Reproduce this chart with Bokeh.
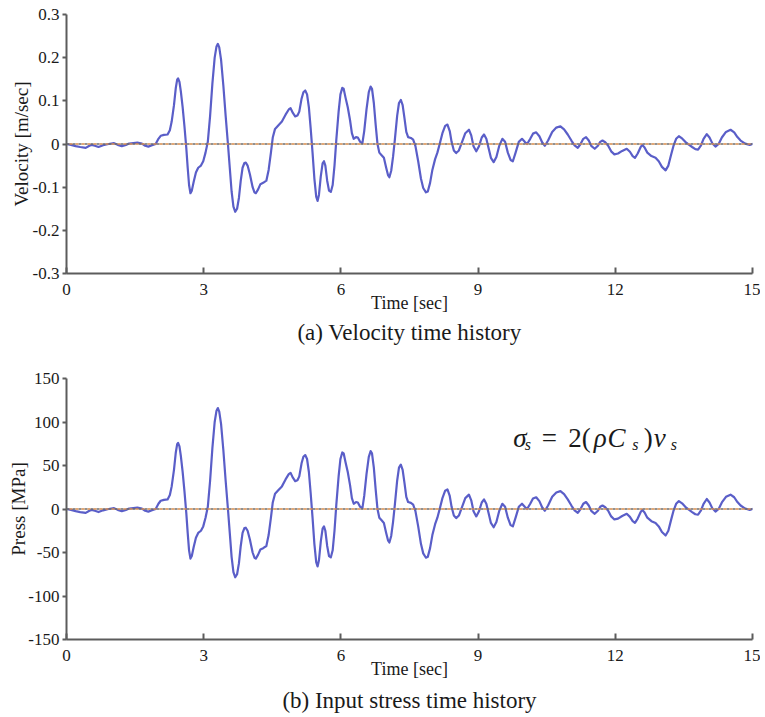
from bokeh.plotting import figure
from bokeh.layouts import column
from bokeh.models import FixedTicker, Span, Title, Label, Range1d
from bokeh.embed import file_html
from bokeh.resources import INLINE

# ---------------- data ----------------
time_s = [
    0.00, 0.10, 0.20, 0.30, 0.42, 0.50, 0.55, 0.62, 0.70, 0.80,
    0.92, 1.04, 1.12, 1.21, 1.30, 1.37, 1.46, 1.55, 1.65, 1.72,
    1.79, 1.87, 1.95, 2.01, 2.06, 2.13, 2.21, 2.26, 2.30, 2.35,
    2.39, 2.42, 2.44, 2.47, 2.50, 2.54, 2.58, 2.62, 2.65, 2.68,
    2.71, 2.74, 2.78, 2.83, 2.88, 2.94, 2.99, 3.04, 3.09, 3.14,
    3.19, 3.24, 3.28, 3.31, 3.34, 3.38, 3.43, 3.48, 3.53, 3.57,
    3.61, 3.65, 3.69, 3.73, 3.77, 3.81, 3.85, 3.89, 3.92, 3.96,
    4.01, 4.07, 4.11, 4.14, 4.19, 4.24, 4.30, 4.37, 4.42, 4.47,
    4.51, 4.56, 4.63, 4.71, 4.79, 4.86, 4.90, 4.95, 5.00, 5.05,
    5.09, 5.14, 5.18, 5.22, 5.26, 5.30, 5.34, 5.38, 5.42, 5.46,
    5.49, 5.52, 5.56, 5.60, 5.63, 5.66, 5.70, 5.74, 5.78, 5.82,
    5.86, 5.90, 5.95, 5.99, 6.03, 6.06, 6.10, 6.15, 6.20, 6.24,
    6.28, 6.33, 6.37, 6.42, 6.47, 6.51, 6.56, 6.61, 6.65, 6.68,
    6.72, 6.76, 6.80, 6.84, 6.89, 6.94, 6.99, 7.03, 7.06, 7.10,
    7.14, 7.18, 7.23, 7.27, 7.31, 7.35, 7.39, 7.43, 7.47, 7.53,
    7.58, 7.63, 7.69, 7.75, 7.80, 7.86, 7.90, 7.95, 8.00, 8.06,
    8.11, 8.16, 8.22, 8.28, 8.33, 8.38, 8.42, 8.47, 8.52, 8.58,
    8.65, 8.72, 8.80, 8.85, 8.90, 8.96, 9.02, 9.08, 9.13, 9.18,
    9.23, 9.28, 9.34, 9.40, 9.46, 9.53, 9.59, 9.65, 9.71, 9.76,
    9.82, 9.89, 9.96, 10.02, 10.07, 10.14, 10.20, 10.27, 10.34, 10.40,
    10.46, 10.53, 10.62, 10.71, 10.80, 10.88, 10.96, 11.04, 11.11, 11.18,
    11.24, 11.30, 11.36, 11.42, 11.48, 11.55, 11.62, 11.67, 11.72, 11.78,
    11.85, 11.91, 11.98, 12.06, 12.15, 12.25, 12.32, 12.38, 12.43, 12.49,
    12.55, 12.59, 12.64, 12.70, 12.79, 12.88, 12.95, 13.02, 13.10, 13.16,
    13.22, 13.27, 13.33, 13.39, 13.46, 13.53, 13.60, 13.68, 13.75, 13.81,
    13.87, 13.93, 14.00, 14.06, 14.12, 14.19, 14.26, 14.33, 14.42, 14.52,
    14.60, 14.67, 14.74, 14.84, 14.94, 15.00,
]

velocity = [
    0.000, -0.002, -0.005, -0.007, -0.009, -0.004, -0.002, -0.004, -0.007, -0.003,
    0.000, 0.002, -0.002, -0.005, -0.002, 0.001, 0.002, 0.003, 0.001, -0.004,
    -0.006, -0.003, 0.000, 0.012, 0.019, 0.021, 0.022, 0.032, 0.052, 0.090,
    0.130, 0.149, 0.152, 0.144, 0.122, 0.085, 0.040, -0.010, -0.055, -0.095,
    -0.114, -0.108, -0.088, -0.066, -0.055, -0.050, -0.040, -0.020, 0.005, 0.065,
    0.140, 0.200, 0.226, 0.232, 0.224, 0.195, 0.135, 0.065, 0.000, -0.055,
    -0.110, -0.145, -0.157, -0.150, -0.125, -0.085, -0.055, -0.044, -0.043, -0.050,
    -0.070, -0.100, -0.112, -0.114, -0.105, -0.093, -0.090, -0.085, -0.060, -0.020,
    0.015, 0.035, 0.043, 0.052, 0.068, 0.080, 0.083, 0.072, 0.064, 0.066,
    0.075, 0.105, 0.120, 0.124, 0.115, 0.085, 0.035, -0.020, -0.080, -0.122,
    -0.132, -0.118, -0.075, -0.045, -0.040, -0.050, -0.085, -0.108, -0.111, -0.095,
    -0.050, 0.010, 0.075, 0.115, 0.130, 0.128, 0.108, 0.085, 0.055, 0.025,
    0.012, 0.016, 0.015, 0.005, 0.002, 0.030, 0.080, 0.120, 0.133, 0.128,
    0.095, 0.045, 0.000, -0.020, -0.026, -0.032, -0.055, -0.072, -0.077, -0.062,
    -0.030, 0.010, 0.065, 0.095, 0.102, 0.090, 0.060, 0.028, 0.016, 0.014,
    0.010, -0.005, -0.040, -0.080, -0.102, -0.112, -0.110, -0.090, -0.060, -0.035,
    -0.020, 0.000, 0.025, 0.042, 0.045, 0.030, 0.005, -0.015, -0.021, -0.015,
    0.005, 0.025, 0.033, 0.020, -0.005, -0.017, -0.005, 0.015, 0.022, 0.012,
    -0.010, -0.032, -0.042, -0.030, -0.005, 0.012, 0.005, -0.020, -0.037, -0.040,
    -0.020, 0.005, 0.012, 0.005, 0.000, 0.012, 0.024, 0.027, 0.018, 0.004,
    -0.004, 0.008, 0.028, 0.038, 0.041, 0.034, 0.022, 0.008, -0.003, -0.009,
    0.000, 0.012, 0.016, 0.008, -0.005, -0.011, -0.004, 0.005, 0.008, 0.004,
    -0.005, -0.017, -0.024, -0.022, -0.016, -0.011, -0.018, -0.028, -0.032, -0.022,
    -0.008, -0.002, -0.008, -0.020, -0.028, -0.032, -0.040, -0.053, -0.061, -0.050,
    -0.025, -0.005, 0.012, 0.018, 0.013, 0.005, -0.001, -0.007, -0.012, -0.013,
    -0.004, 0.012, 0.023, 0.015, 0.002, -0.006, 0.000, 0.015, 0.028, 0.033,
    0.027, 0.016, 0.008, 0.001, -0.002, 0.000,
]

press = [
    0.0, -1.0, -2.5, -3.5, -4.5, -2.0, -1.0, -2.0, -3.5, -1.5,
    0.0, 1.0, -1.0, -2.5, -1.0, 0.5, 1.0, 1.5, 0.5, -2.0,
    -3.0, -1.5, 0.0, 6.0, 9.5, 10.5, 11.0, 16.0, 26.0, 45.0,
    65.0, 74.5, 76.0, 72.0, 61.0, 42.5, 20.0, -5.0, -27.5, -47.5,
    -57.0, -54.0, -44.0, -33.0, -27.5, -25.0, -20.0, -10.0, 2.5, 32.5,
    70.0, 100.0, 113.0, 116.0, 112.0, 97.5, 67.5, 32.5, 0.0, -27.5,
    -55.0, -72.5, -78.5, -75.0, -62.5, -42.5, -27.5, -22.0, -21.5, -25.0,
    -35.0, -50.0, -56.0, -57.0, -52.5, -46.5, -45.0, -42.5, -30.0, -10.0,
    7.5, 17.5, 21.5, 26.0, 34.0, 40.0, 41.5, 36.0, 32.0, 33.0,
    37.5, 52.5, 60.0, 62.0, 57.5, 42.5, 17.5, -10.0, -40.0, -61.0,
    -66.0, -59.0, -37.5, -22.5, -20.0, -25.0, -42.5, -54.0, -55.5, -47.5,
    -25.0, 5.0, 37.5, 57.5, 65.0, 64.0, 54.0, 42.5, 27.5, 12.5,
    6.0, 8.0, 7.5, 2.5, 1.0, 15.0, 40.0, 60.0, 66.5, 64.0,
    47.5, 22.5, 0.0, -10.0, -13.0, -16.0, -27.5, -36.0, -38.5, -31.0,
    -15.0, 5.0, 32.5, 47.5, 51.0, 45.0, 30.0, 14.0, 8.0, 7.0,
    5.0, -2.5, -20.0, -40.0, -51.0, -56.0, -55.0, -45.0, -30.0, -17.5,
    -10.0, 0.0, 12.5, 21.0, 22.5, 15.0, 2.5, -7.5, -10.5, -7.5,
    2.5, 12.5, 16.5, 10.0, -2.5, -8.5, -2.5, 7.5, 11.0, 6.0,
    -5.0, -16.0, -21.0, -15.0, -2.5, 6.0, 2.5, -10.0, -18.5, -20.0,
    -10.0, 2.5, 6.0, 2.5, 0.0, 6.0, 12.0, 13.5, 9.0, 2.0,
    -2.0, 4.0, 14.0, 19.0, 20.5, 17.0, 11.0, 4.0, -1.5, -4.5,
    0.0, 6.0, 8.0, 4.0, -2.5, -5.5, -2.0, 2.5, 4.0, 2.0,
    -2.5, -8.5, -12.0, -11.0, -8.0, -5.5, -9.0, -14.0, -16.0, -11.0,
    -4.0, -1.0, -4.0, -10.0, -14.0, -16.0, -20.0, -26.5, -30.5, -25.0,
    -12.5, -2.5, 6.0, 9.0, 6.5, 2.5, -0.5, -3.5, -6.0, -6.5,
    -2.0, 6.0, 11.5, 7.5, 1.0, -3.0, 0.0, 7.5, 14.0, 16.5,
    13.5, 8.0, 4.0, 0.5, -1.0, 0.0,
]

x_ticks = [0, 3, 6, 9, 12, 15]
vel_ticks = [-0.3, -0.2, -0.1, 0.0, 0.1, 0.2, 0.3]
vel_tick_labels = ["-0.3", "-0.2", "-0.1", "0", "0.1", "0.2", "0.3"]
press_ticks = [-150, -100, -50, 0, 50, 100, 150]
press_tick_labels = ["-150", "-100", "-50", "0", "50", "100", "150"]

FONT = "Liberation Serif"
LINE_COLOR = "#5a5ec8"
AXIS_COLOR = "#5c5c5c"
TEXT_COLOR = "#1a1a1a"


def make_fig(height, top, bottom, left, y_lo, y_hi, yticks, ylabels, ylabel,
             caption, ys, ylabel_standoff, cap_standoff):
    p = figure(width=760, height=height, x_range=Range1d(0, 15),
               y_range=Range1d(y_lo, y_hi), output_backend="svg",
               toolbar_location=None, min_border_left=left, min_border_right=8,
               min_border_top=top, min_border_bottom=bottom)
    p.outline_line_color = None
    p.xgrid.visible = False
    p.ygrid.visible = False
    p.background_fill_color = "white"
    p.border_fill_color = "white"

    p.line(time_s, ys, line_color=LINE_COLOR, line_width=2.2,
           line_join="round", line_cap="round")
    p.add_layout(Span(location=0, dimension="width", line_color="#6e6e6e",
                      line_width=1.6, line_dash="3 3"))
    p.add_layout(Span(location=0, dimension="width", line_color="#d98c4a",
                      line_width=1.6, line_dash="3 3", line_dash_offset=3))

    xa = p.xaxis[0]
    xa.ticker = FixedTicker(ticks=x_ticks)
    xa.minor_tick_line_color = None
    xa.major_tick_in = 6
    xa.major_tick_out = 0
    xa.axis_line_color = AXIS_COLOR
    xa.axis_line_width = 2
    xa.major_tick_line_color = AXIS_COLOR
    xa.major_tick_line_width = 2
    xa.major_label_text_font = FONT
    xa.major_label_text_font_size = "17px"
    xa.major_label_text_color = TEXT_COLOR
    xa.major_label_standoff = 10
    xa.axis_label = "Time [sec]"
    xa.axis_label_text_font = FONT
    xa.axis_label_text_font_size = "18px"
    xa.axis_label_text_font_style = "normal"
    xa.axis_label_text_color = TEXT_COLOR
    xa.axis_label_standoff = -5

    ya = p.yaxis[0]
    ya.ticker = FixedTicker(ticks=yticks)
    ya.major_label_overrides = {t: s for t, s in zip(yticks, ylabels)}
    ya.minor_tick_line_color = None
    ya.major_tick_in = 0
    ya.major_tick_out = 4
    ya.axis_line_color = AXIS_COLOR
    ya.axis_line_width = 2
    ya.major_tick_line_color = AXIS_COLOR
    ya.major_tick_line_width = 2
    ya.major_label_text_font = FONT
    ya.major_label_text_font_size = "17px"
    ya.major_label_text_color = TEXT_COLOR
    ya.major_label_standoff = 3
    ya.axis_label = ylabel
    ya.axis_label_text_font = FONT
    ya.axis_label_text_font_size = "19px"
    ya.axis_label_text_font_style = "normal"
    ya.axis_label_text_color = TEXT_COLOR
    ya.axis_label_standoff = ylabel_standoff

    cap = Title(text=caption, align="center", text_font=FONT,
                text_font_size="23px", text_font_style="normal",
                text_color=TEXT_COLOR, standoff=cap_standoff)
    p.add_layout(cap, "below")
    return p


p1 = make_fig(358, 14, 85, 64, -0.3, 0.3, vel_ticks, vel_tick_labels,
              "Velocity [m/sec]", "(a) Velocity time history", velocity, -2, 5)
p2 = make_fig(359, 20, 78, 66, -150, 150, press_ticks, press_tick_labels,
              "Press [MPa]", "(b) Input stress time history", press, -4, 9)

# formula  sigma_s = 2(rho C_s) v_s
pieces = [
    (9.77, 82, "σ", "italic", "27px"),
    (10.02, 74, "s", "italic", "16px"),
    (10.39, 82, "=", "normal", "27px"),
    (10.97, 82, "2(", "normal", "27px"),
    (11.53, 82, "ρ", "italic", "27px"),
    (11.83, 82, "C", "italic", "27px"),
    (12.37, 74, "s", "italic", "16px"),
    (12.62, 82, ")", "normal", "27px"),
    (12.84, 82, "v", "italic", "27px"),
    (13.21, 74, "s", "italic", "16px"),
]
for x, y, t, st, sz in pieces:
    p2.add_layout(Label(x=x, y=y, text=t, text_font=FONT, text_font_style=st,
                        text_font_size=sz, text_color=TEXT_COLOR,
                        text_align="left", text_baseline="alphabetic"))

layout = column(p1, p2)
open("out.html", "w").write(file_html(layout, INLINE))
